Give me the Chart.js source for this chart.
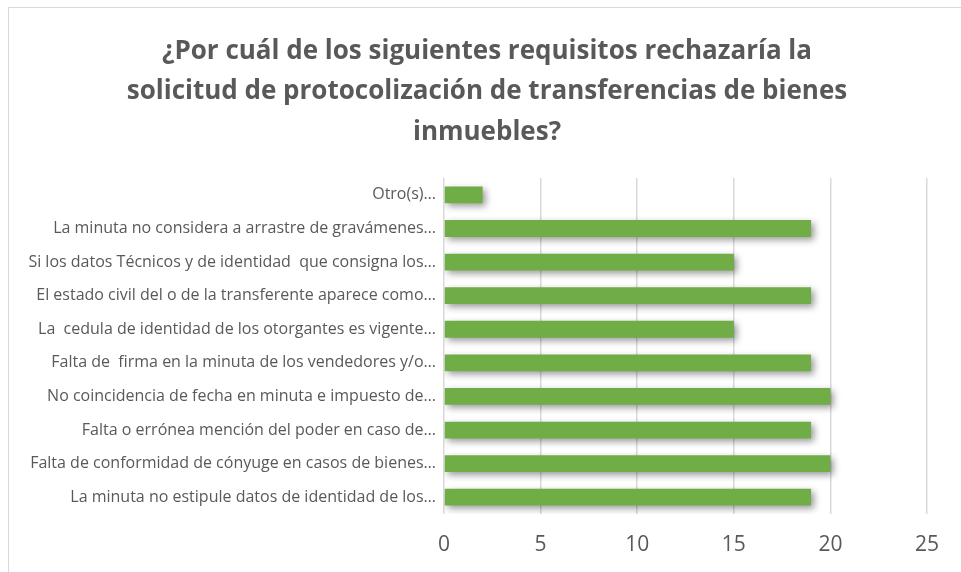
<!DOCTYPE html>
<html>
<head>
<meta charset="utf-8">
<script src="https://cdn.jsdelivr.net/npm/chart.js@4/dist/chart.umd.min.js"></script>
<style>
    html, body { margin: 0; padding: 0; background: #fff; overflow: hidden; }
    #frame { position: absolute; left: 8px; top: 7px; width: 1000px; height: 700px; border: 1px solid #d9d9d9; }
    #wrap { position: absolute; left: 0; top: 0; width: 961px; height: 572px; }
</style>
</head>
<body>
<div id="frame"></div>
<div id="wrap"><canvas id="chart"></canvas></div>
<script>
const titleLines = [
    "¿Por cuál de los siguientes requisitos rechazaría la",
    "solicitud de protocolización de transferencias de bienes",
    "inmuebles?",
];

// top to bottom, as shown
const categories = [
    "Otro(s)…",
    "La minuta no considera a arrastre de gravámenes…",
    "Si los datos Técnicos y de identidad  que consigna los…",
    "El estado civil del o de la transferente aparece como…",
    "La  cedula de identidad de los otorgantes es vigente…",
    "Falta de  firma en la minuta de los vendedores y/o…",
    "No coincidencia de fecha en minuta e impuesto de…",
    "Falta o errónea mención del poder en caso de…",
    "Falta de conformidad de cónyuge en casos de bienes…",
    "La minuta no estipule datos de identidad de los…",
];

const counts = [2, 19, 15, 19, 15, 19, 20, 19, 20, 19];

const xMin = 0;
const xMax = 25;
const xStep = 5;

const textGray = "#595959";
const gridGray = "#d9d9d9";
const barGreen = "#70ad47";

// soft drop shadow under the bars
const barShadow = {
    id: "barShadow",
    beforeDatasetsDraw(chart) {
        const ctx = chart.ctx;
        ctx.save();
        ctx.shadowColor = "rgba(0, 0, 0, 0.4)";
        ctx.shadowBlur = 7;
        ctx.shadowOffsetX = 3;
        ctx.shadowOffsetY = 3;
    },
    afterDatasetsDraw(chart) {
        chart.ctx.restore();
    },
};

// the title sits centred over the frame, a bit right of the canvas centre
const titleShift = {
    id: "titleShift",
    afterLayout(chart) {
        if (chart.titleBlock) chart.titleBlock.left += 27;
    },
};

const ctx = document.getElementById("chart");

new Chart(ctx, {
    type: "bar",
    data: {
        labels: categories,
        datasets: [{
            data: counts,
            backgroundColor: barGreen,
            borderWidth: 0,
            barPercentage: 0.5,
            categoryPercentage: 1,
        }],
    },
    plugins: [barShadow, titleShift],
    options: {
        indexAxis: "y",
        responsive: true,
        maintainAspectRatio: false,
        animation: false,
        layout: {
            padding: { left: 20, right: 34, top: 0, bottom: 16 },
        },
        scales: {
            x: {
                min: xMin,
                max: xMax,
                afterFit: (scale) => { scale.height = 42; },
                ticks: {
                    stepSize: xStep,
                    color: textGray,
                    padding: 18,
                    font: { family: "'Open Sans', sans-serif", size: 21 },
                },
                grid: { color: gridGray, lineWidth: 1.5, drawTicks: false },
                border: { display: false },
            },
            y: {
                afterFit: (scale) => { scale.width = 424; },
                ticks: {
                    color: textGray,
                    padding: 0,
                    autoSkip: false,
                    font: { family: "'Open Sans', sans-serif", size: 16 },
                },
                grid: { display: false },
                border: { display: false },
            },
        },
        plugins: {
            legend: { display: false },
            tooltip: { enabled: false },
            title: {
                display: true,
                text: titleLines,
                color: textGray,
                font: { family: "'Open Sans', sans-serif", size: 26, weight: "bold", lineHeight: 1.54 },
                padding: { top: 32, bottom: 26 },
            },
        },
    },
});
</script>
</body>
</html>
